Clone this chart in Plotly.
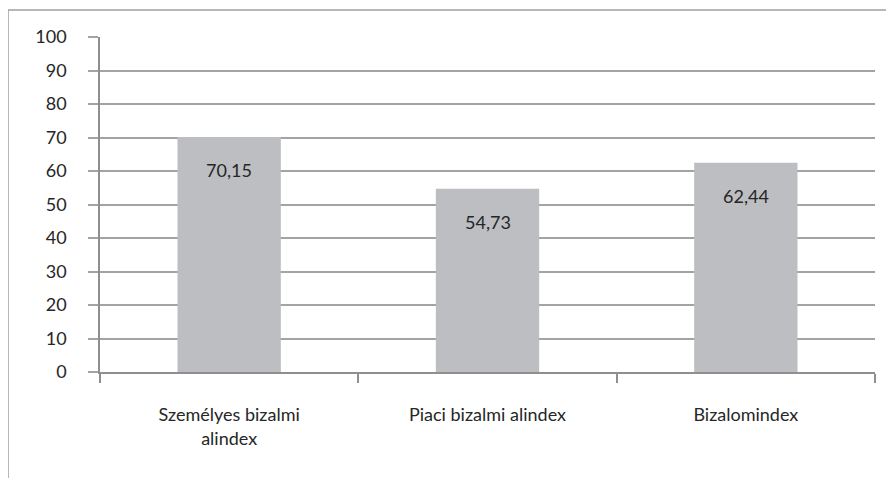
import plotly.graph_objects as go

categories = ["Személyes bizalmi<br>alindex", "Piaci bizalmi alindex", "Bizalomindex"]
values = [70.15, 54.73, 62.44]
value_labels = ["70,15", "54,73", "62,44"]
y_ticks = [0, 10, 20, 30, 40, 50, 60, 70, 80, 90, 100]

FONT = "Lato, 'Open Sans', sans-serif"
GRID = "#a3a3a3"
AXIS = "#8f8f8f"
TEXT = "#262626"
FS = 18

# page has an 8px body margin, so margins are offset by 8px
L, R, T, B = 92, 27, 29, 114
PW = 894 - L - R
PH = 478 - T - B

fig = go.Figure()
fig.add_trace(go.Bar(
    x=categories, y=values,
    marker=dict(color="#bdbec2", line=dict(width=0)),
    hoverinfo="skip",
))

for c, v, t in zip(categories, values, value_labels):
    fig.add_annotation(x=c, y=v, text=t, showarrow=False, yshift=-33,
                       font=dict(family=FONT, size=FS, color=TEXT))

fig.update_layout(
    width=894, height=478,
    margin=dict(l=L, r=R, t=T, b=B, autoexpand=False),
    paper_bgcolor="white", plot_bgcolor="white",
    bargap=0.6,
    showlegend=False,
    font=dict(family=FONT, size=FS, color=TEXT),
    xaxis=dict(
        type="category",
        showline=True, linecolor=AXIS, linewidth=1.5,
        ticks="outside", tickson="boundaries", ticklen=9, tickcolor=AXIS, tickwidth=1.5,
        showgrid=False,
        ticklabelstandoff=26,
        tickfont=dict(family=FONT, size=FS, color=TEXT),
    ),
    yaxis=dict(
        range=[0, 100], tickvals=y_ticks, ticktext=[str(v) for v in y_ticks],
        showline=True, linecolor=AXIS, linewidth=1.5,
        ticks="outside", ticklen=10, tickcolor=GRID, tickwidth=1.5,
        showgrid=True, gridcolor=GRID, gridwidth=1.5,
        zeroline=False,
        ticklabelstandoff=18,
        tickfont=dict(family=FONT, size=FS, color=TEXT),
    ),
)

# outer chart border (right and bottom edges fall outside the picture)
fig.add_shape(type="rect", xref="paper", yref="paper",
              x0=(0 - L) / PW, x1=1.1, y0=-0.6, y1=1 + (T - 2) / PH,
              line=dict(color="#a0a0a0", width=1.5), layer="below")

fig.write_html("out.html")
